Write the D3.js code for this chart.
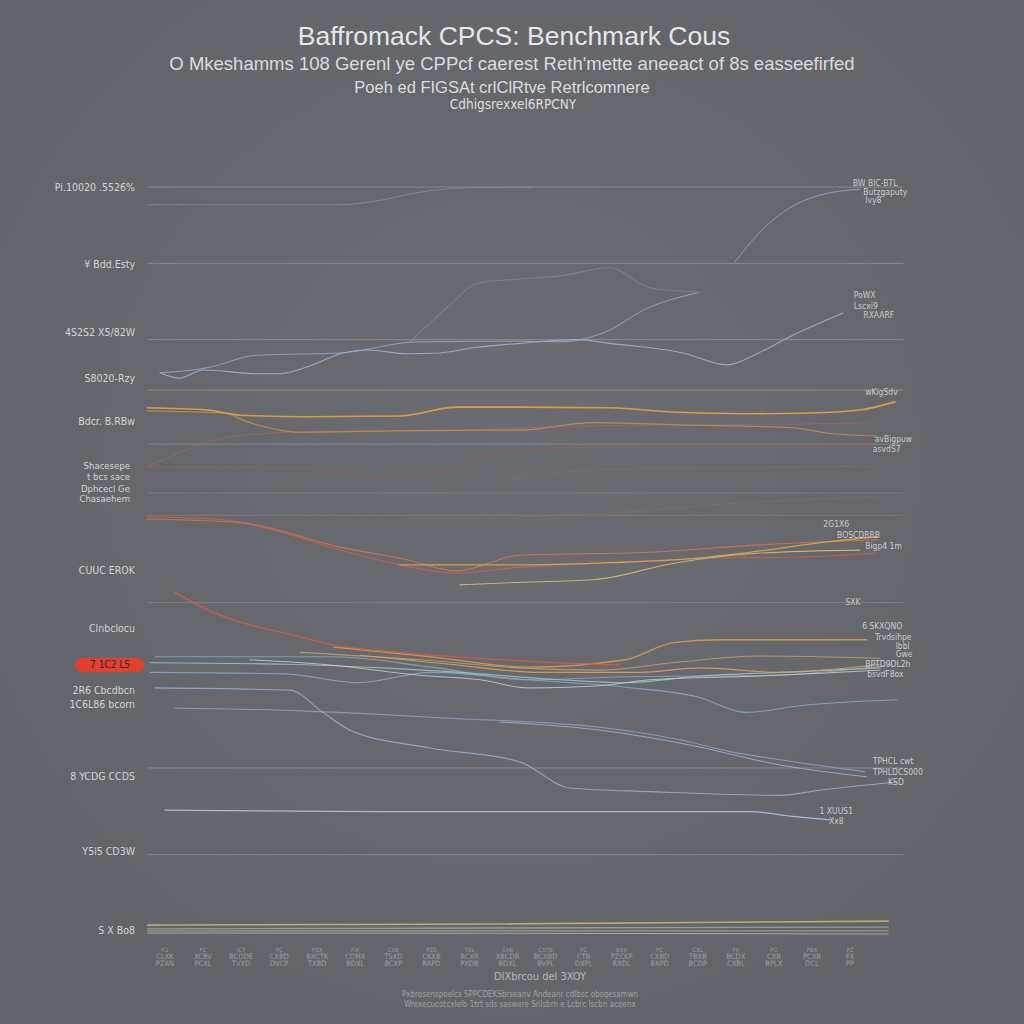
<!DOCTYPE html>
<html><head><meta charset="utf-8">
<script src="https://cdn.jsdelivr.net/npm/d3@7"></script>
<style>
html,body{margin:0;padding:0;background:#64666b;}
svg{display:block;}
</style></head>
<body>
<svg id="chart" width="1024" height="1024"></svg>
<script>
// ---------------- DATA ----------------
const titleText = "Baffromack CPCS: Benchmark Cous";
const subtitleLines = [
  "O Mkeshamms 108 Gerenl ye CPPcf caerest Reth'mette aneeact of 8s easseefirfed",
  "Poeh ed FIGSAt crlClRtve  Retrlcomnere",
  "Cdhigsrexxel6RPCNY"
];
const xAxisTitle = "DIXbrcou del 3XOY";
const footnoteLines = [
  "Pxbrosenspoelcs SPPCDEKSbrseanv Andeanr cdlbsc obsqesamwn",
  "Wrexecucotcxlelb 1trt sds saswere Snlsbrn e Lcbrc lscbn acoenx"
];
const xTickValues = d3.range(19);
const xTickLabels = [
  ["P.2","CLXK","PZAN"],["FC","XCBV","PCXL"],["ICT","BCODE","TVXD"],["PC","CXBD","DVCP"],
  ["PZX","BXCTK","TXBD"],["FIX","CDMX","BDXL"],["CXB","TSXD","BCXP"],["PZS","CKXB","RAPD"],
  ["TXL","BCXR","PXDB"],["SXB","XBCDR","BDXL"],["CXTB","BCXBD","BVPL"],["PC","CTB","DXPL"],
  ["BXX","PZCKP","RXDL"],["FC","CXBD","BXPD"],["CXL","TBXB","BCDP"],["FX","BCDX","CXBL"],
  ["PC","CXB","BPLX"],["FBX","PCXB","DCL"],["PZ","FX","PP"]
];
const yGridValues = [100, 89.7, 79.4, 72.6, 65.3, 58.7, 55.7, 43.9, 21.6, 9.9];
const yLabelValues = [99.9, 89.6, 80.3, 74.2, 68.3, 62.4, 60.9, 59.3, 58.0, 48.3, 40.4, 35.5, 32.1, 30.1, 20.4, 10.3, -0.3];
const yLabelTexts = [
  "Pi.10020 .5526%", "¥ Bdd.Esty", "4S2S2 X5/82W", "S8020-Rzy", "Bdcr. B.RBw",
  "Shacesepe", "t bcs sace", "Dphcecl Ge", "Chasaehem",
  "CUUC EROK", "Clnbclocu", "7 1C2 L5", "2R6 Cbcdbcn", "1C6L86 bcorn",
  "8 YCDG CCDS", "Y5l5 CD3W", "S X Bo8"
];
const highlightLabel = "7 1C2 L5";

// series: [x index, score]
const sL1 = [[-0.45,97.6],[4.6,97.6],[5.65,98.2],[6.7,99.3],[8.0,99.9],[9.6,100]];
const sL2 = [[14.98,89.9],[15.63,93.9],[16.42,97.2],[17.21,98.9],[18.26,99.7]];
const sLA = [[-0.13,74.9],[0.39,74.2],[1.0,75.3],[2.42,74.8],[3.02,74.8],[3.73,75.7],[4.68,77.6],[5.31,78.0],[6.36,77.5],[7.23,77.6],[8.09,78.3],[9.33,78.9],[10.83,79.4],[11.69,78.9],[13.61,77.6],[14.77,76.0],[15.63,77.7],[16.42,79.8],[17.81,83.0]];
const sLB = [[-0.13,74.9],[1.1,75.6],[2.42,77.3],[4.6,77.6],[6.62,79.1],[9.33,79.2],[10.38,79.1],[11.51,80.3],[12.74,83.8],[13.98,85.7]];
const sLC = [[6.44,79.1],[7.49,84.1],[8.2,87.0],[9.33,87.6],[10.38,88.0],[11.69,89.1],[12.74,86.4],[14.06,85.8]];
const sO1 = [[-0.47,70.2],[1.1,69.9],[1.97,69.2],[3.73,69.0],[6.17,69.1],[7.67,70.3],[9.33,70.3],[11.69,70.2],[13.45,69.6],[15.19,69.4],[16.95,69.5],[18.26,69.9],[19.18,71.0]];
const sO2 = [[-0.47,69.8],[1.52,69.5],[2.23,68.2],[3.55,66.9],[6.17,67.1],[9.33,67.2],[11.25,68.2],[13.45,67.9],[16.5,67.5],[17.39,66.8],[18.71,66.4]];
const sO3 = [[-0.5,62.2],[0.13,63.6],[1.18,65.7],[2.5,66.7],[4.86,67.1],[7.49,67.2],[11.43,67.8],[16.68,68.0],[18.52,68.2]];
const sO4 = [[-0.5,62.2],[1.97,62.2],[3.73,62.1],[5.47,60.7],[6.78,60.9],[8.09,62.8],[9.33,64.5],[11.43,64.9],[18.52,64.9]];
const sO5 = [[9.06,60.5],[11.25,61.8],[14.32,62.1],[18.52,62.3]];
const sO6 = [[9.33,55.5],[11.69,56.0],[15.19,57.4],[18.71,58.2]];
const sR1 = [[-0.47,55.5],[1.52,55.1],[2.84,53.7],[4.6,51.0],[5.91,49.3],[7.67,47.9],[9.33,48.7],[11.69,49.3],[14.32,49.9],[16.95,50.1],[18.71,50.6]];
const sR2 = [[-0.47,55.2],[1.97,54.7],[4.6,51.4],[6.36,49.7],[7.67,48.2],[9.33,50.3],[12.74,50.7],[15.63,51.7],[18.71,52.4]];
const sY1 = [[6.17,49.0],[9.33,49.0],[11.69,49.3],[13.45,49.7],[15.19,50.6],[17.39,52.1],[18.71,52.8]];
const sY2 = [[7.75,46.3],[9.06,46.6],[11.25,47.0],[13.45,49.3],[15.63,50.6],[18.26,51.0]];
const sR3 = [[0.26,45.3],[1.18,42.8],[2.02,41.2],[3.15,39.8],[4.44,38.2],[6.36,37.1],[8.25,36.4],[10.17,35.8],[11.95,35.5]];
const sB1 = [[4.44,37.9],[6.99,36.6],[9.54,35.2],[12.09,36.2],[13.35,38.5],[14.58,38.9],[18.44,38.9]];
const sB2 = [[3.55,37.2],[6.7,36.2],[9.33,35.1],[11.43,34.8],[13.53,35.9],[15.63,36.7],[18.79,36.4]];
const sB3 = [[5.12,36.8],[7.49,35.6],[9.85,34.5],[12.48,34.5],[14.06,35.1],[16.16,34.5],[18.79,35.6]];
const sB4 = [[-0.26,36.6],[4.44,36.6],[6.99,35.2],[9.54,33.5],[12.09,33.9],[15.9,34.1],[19.08,35.5]];
const sB5 = [[-0.39,35.8],[3.15,35.6],[5.7,35.1],[8.01,34.4],[10.38,33.5],[12.09,33.1],[14.06,34.0],[16.16,34.5],[18.79,35.1]];
const sB7 = [[-0.39,34.5],[3.15,34.3],[5.07,33.1],[6.99,34.5],[9.54,33.5],[12.09,32.5],[13.98,31.2],[15.27,29.1],[16.68,30.0],[19.23,30.8]];
const sB8 = [[2.23,36.2],[4.34,35.5],[6.7,34.1],[8.28,33.5],[9.54,32.4],[11.43,32.7],[12.74,33.5],[15.63,34.0],[18.79,34.8]];
const sD1 = [[0.26,29.7],[3.55,29.3],[7.49,28.3],[11.43,27.1],[13.53,25.4],[14.85,23.8],[16.16,22.7],[18.39,21.1]];
const sD2 = [[-0.26,32.4],[3.28,32.1],[4.15,29.1],[4.86,26.7],[6.96,24.3],[9.33,22.4],[10.64,18.9],[12.74,18.4],[16.16,17.9],[17.21,18.6],[19.23,19.7]];
const sD3 = [[8.8,27.8],[11.43,26.7],[13.79,24.7],[16.16,22.0],[18.44,20.4]];
const sD4 = [[0,15.9],[6.17,15.7],[11.43,15.7],[15.37,15.7],[16.42,15.1],[17.47,14.6]];
const sF1 = [[-0.45,0.4],[8.8,0.54],[19.0,0.94]];
const sF2 = [[-0.45,-0.13],[8.8,0.0],[19.0,0.13]];
const sF3 = [[-0.45,-0.4],[8.8,-0.4],[19.0,-0.4]];
const sF4 = [[-0.45,-0.67],[8.8,-0.7],[19.0,-0.81]];

// right-end labels: [x index, score, text]
const endLabels = [
  [18.08,100.6,"BW BIC-BTL"],[18.35,99.3,"Butzgaputy"],[18.4,98.2,"Ivy8"],
  [18.1,85.4,"PoWX"],[18.1,84.0,"Lscxi9"],[18.35,82.7,"RXAARF"],
  [18.4,72.3,"wKigSdv"],[18.65,66.0,"avBigpuw"],[18.6,64.6,"asvdS7"],
  [17.3,54.5,"2G1X6"],[17.66,53.1,"BOSCDRRB"],[18.4,51.6,"Bigp4 1m"],
  [17.88,44.0,"SXK"],[18.32,40.7,"6 SKXQNO"],[18.66,39.3,"Trvdsihpe"],[19.2,38.1,"lbbl"],[19.2,37.0,"Gwe"],
  [18.4,35.6,"BPTD9DL2h"],[18.45,34.3,"bsvdF8ox"],
  [18.6,22.5,"TPHCL cwt"],[18.6,21.1,"TPHLDCS000"],[19.0,19.7,"KSD"],
  [17.2,15.8,"1 XUUS1"],[17.45,14.5,"Xx8"]
];

// ---------------- STYLES ----------------
const seriesStyles = [
  [sL1,"#8796aa",0.9,0.75],[sL2,"#8ea6c4",1.0,0.85],[sLC,"#7a8492",1.1,0.9],
  [sLA,"#a0b5d0",1.1,0.85],[sLB,"#98afcb",1.0,0.8],
  [sO5,"#8e6e62",0.9,0.65],[sO6,"#8e6e62",0.9,0.65],[sO3,"#a06a5c",1.0,0.75],[sO4,"#9a5f5a",1.1,0.8],
  [sO2,"#c88b4c",1.2,0.85],[sO1,"#e4a03c",1.6,0.95],
  [sR1,"#d25f4b",1.1,0.85],[sR2,"#e0714f",1.1,0.85],[sY2,"#dcbd74",1.1,0.85],[sY1,"#d6aa4c",1.3,0.9],
  [sD4,"#adc3e2",1.2,0.9],[sD3,"#a6b7cf",1.0,0.8],[sD1,"#8ca3c0",1.1,0.85],[sD2,"#9ab1cd",1.1,0.85],
  [sB7,"#8bacc4",1.1,0.85],[sB4,"#84aabf",1.1,0.85],[sB5,"#9cc4c2",1.1,0.85],[sB8,"#cdd2d2",1.0,0.8],
  [sB2,"#c4a063",1.1,0.85],[sB3,"#e0a454",1.1,0.85],[sB1,"#d89a4e",1.3,0.9],[sR3,"#d85a48",1.3,0.9],
  [sF4,"#bfc1bd",1.1,0.75],[sF3,"#a9a77a",1.3,0.85],[sF2,"#96a6b8",1.3,0.85],[sF1,"#cab35e",1.7,0.9]
];
const gridColors = ["#8a8d93","#8d9096","#8d9096","#b08a66","#878a90","#7d7f84","#887876","#83858a","#8b8e94","#888b90"];

// ---------------- DRAW ----------------
const svg = d3.select("#chart");
const W = 1024, H = 1024;
svg.append("rect").attr("width",W).attr("height",H).attr("fill","#64666b");
const defs = svg.append("defs");
const rg = defs.append("radialGradient").attr("id","bgGlow").attr("cx","50%").attr("cy","45%").attr("r","60%");
rg.append("stop").attr("offset","0%").attr("stop-color","#6a6c71");
rg.append("stop").attr("offset","100%").attr("stop-color","#626469");
svg.append("rect").attr("width",W).attr("height",H).attr("fill","url(#bgGlow)");

const x = d3.scaleLinear().domain([0,18]).range([165,850]);
const y = d3.scaleLinear().domain([0,100]).range([928,187]);

const sans = "'Liberation Sans', Arial, sans-serif";
const narrow = "'Liberation Sans Narrow','DejaVu Sans Condensed','Liberation Sans', sans-serif";

// title
svg.append("text").attr("x",514).attr("y",45).attr("text-anchor","middle")
  .attr("font-family",sans).attr("font-size",26.5).attr("fill","#e6e6e8").text(titleText);
const subSizes = [18.5,16.5,13.5], subY = [70,93,109], subX = [512,502,513];
subtitleLines.forEach((t,k)=>{
  svg.append("text").attr("x",subX[k]).attr("y",subY[k]).attr("text-anchor","middle")
    .attr("font-family", k===2?narrow:sans).attr("font-size",subSizes[k]).attr("fill","#dcdcdf").text(t);
});

// gridlines
const gx0 = x(-0.45), gx1 = x(19.4);
svg.append("g").selectAll("line").data(yGridValues).join("line")
  .attr("x1",gx0).attr("x2",gx1).attr("y1",d=>y(d)).attr("y2",d=>y(d))
  .attr("stroke",(d,k)=>gridColors[k]).attr("stroke-width",1).attr("opacity",0.9);

// y labels
const yl = svg.append("g");
yLabelTexts.forEach((t,k)=>{
  const yy = y(yLabelValues[k]);
  if (t === highlightLabel) {
    yl.append("rect").attr("x",75).attr("y",yy-7).attr("width",69).attr("height",14).attr("rx",7)
      .attr("fill","#e0412f");
    yl.append("text").attr("x",110).attr("y",yy+3.5).attr("text-anchor","middle")
      .attr("font-family",narrow).attr("font-size",10).attr("fill","#3a2424").text(t);
  } else {
    const multi = k>=5 && k<=8;
    yl.append("text").attr("x",multi?130:135).attr("y",yy+3.5).attr("text-anchor","end")
      .attr("font-family",narrow).attr("font-size",multi?9.5:10.5).attr("fill","#d2d4d8").text(t);
  }
});

// series
const line = d3.line().x(d=>x(d[0])).y(d=>y(d[1])).curve(d3.curveMonotoneX);
svg.append("g").selectAll("path").data(seriesStyles).join("path")
  .attr("d",d=>line(d[0])).attr("fill","none")
  .attr("stroke",d=>d[1]).attr("stroke-width",d=>d[2]).attr("opacity",d=>d[3])
  .attr("stroke-linejoin","round").attr("stroke-linecap","round");

// end labels
svg.append("g").selectAll("text").data(endLabels).join("text")
  .attr("x",d=>x(d[0])).attr("y",d=>y(d[1])+3)
  .attr("font-family",narrow).attr("font-size",8.5).attr("fill","#c9cbd0").text(d=>d[2]);

// x tick labels
const xt = svg.append("g");
xTickValues.forEach((v,k)=>{
  const lab = xTickLabels[k];
  lab.forEach((t,j)=>{
    xt.append("text").attr("x",x(v)).attr("y",952+j*7).attr("text-anchor","middle")
      .attr("font-family",narrow).attr("font-size",j===0?6:7.5).attr("fill","#9a9ca1").text(t);
  });
});

// axis title & footnote
svg.append("text").attr("x",540).attr("y",980).attr("text-anchor","middle")
  .attr("font-family",narrow).attr("font-size",11).attr("fill","#b4b6ba").text(xAxisTitle);
footnoteLines.forEach((t,k)=>{
  svg.append("text").attr("x",520).attr("y",997+k*10).attr("text-anchor","middle")
    .attr("font-family",narrow).attr("font-size",8).attr("fill","#9fa1a6").text(t);
});
</script>
</body></html>
